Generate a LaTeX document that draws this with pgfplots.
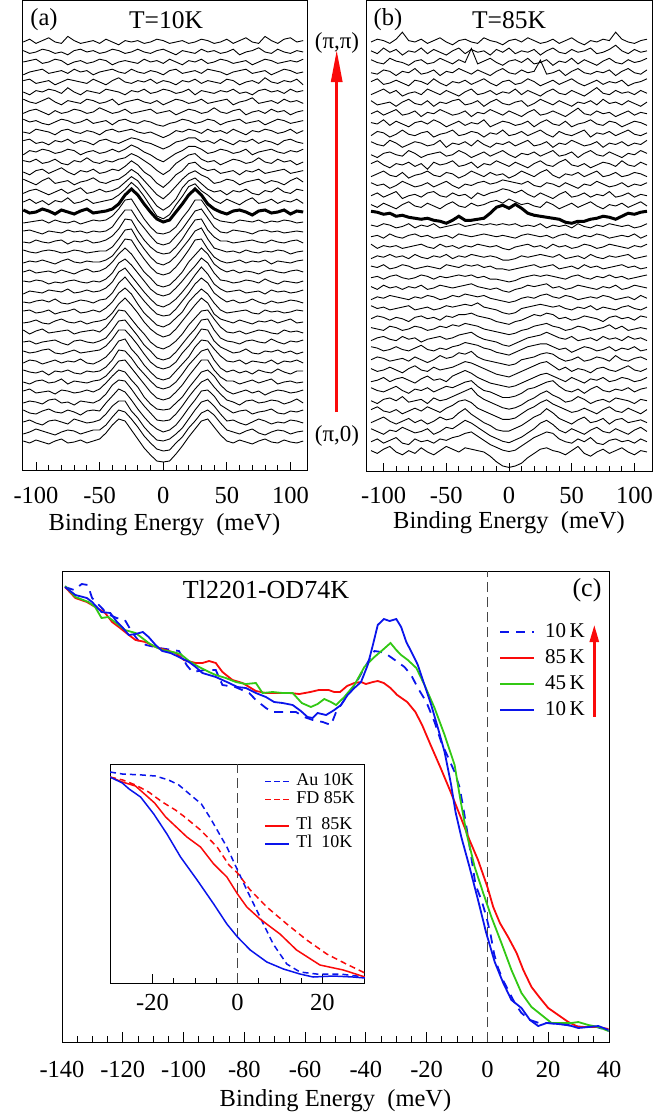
\documentclass[border=0pt]{standalone}
\usepackage{fontspec}
\setmainfont{Liberation Serif}
\usepackage{pgfplots}
\usepackage{pgfplotstable}
\pgfplotsset{compat=1.18}
\usetikzlibrary{arrows.meta}
\definecolor{cblue}{RGB}{10,20,235}
\definecolor{cred}{RGB}{250,10,10}
\definecolor{cgreen}{RGB}{50,200,20}
\definecolor{cgray}{RGB}{70,70,70}

% Panel (a): one row per spectrum (deviation in px), columns = binding energy (meV)
\pgfplotstableread{
name -110 -105 -100 -95 -90 -85 -80 -75 -70 -65 -60 -55 -50 -45 -40 -35 -30 -25 -20 -15 -10 -5 0 5 10 15 20 25 30 35 40 45 50 55 60 65 70 75 80 85 90 95 100 105 110
c0  1 -1 2 0 -2  1 3 -1 0 2  -1 1 3 9 17  23 21 12 3 -6  -13 -19 -20 -19 -12  -4 5 13 21 23  15 7 1 -1 2  0 -2 1 3 0  -1 2 0 -1 1
c1  -2 0 3 1 -1  -3 0 2 1 -2  0 2 2 7 15  22 20 13 5 -4  -11 -17 -19 -18 -11  -5 4 11 19 22  17 9 2 0 -2  1 3 -1 -3 0  2 1 -2 0 1
c2  0 2 -1 -3 1  2 0 -2 3 1  -1 0 2 8 16  21 21 11 4 -5  -12 -18 -19 -17 -12  -6 3 12 20 22  16 8 1 2 -1  -3 0 3 1 -2  0 -1 2 1 -1
c3  2 -1 -2 1 3  0 -1 2 0 -3  1 2 1 9 16  23 20 12 3 -5  -12 -17 -20 -18 -13  -5 4 12 21 22  16 7 3 -1 1  2 -2 0 1 3  -1 -2 1 0 2
c4  -1 1 0 -2 2  3 -1 0 -3 1  0 -1 2 8 17  22 21 13 4 -4  -11 -18 -19 -18 -12  -4 5 13 20 23  15 8 2 0 -3  1 2 -1 0 2  1 -2 0 3 -1
c5  1 3 -1 0 1  -2 2 1 -1 0  2 0 3 9 16  22 20 12 5 -5  -12 -17 -18 -17 -11  -5 4 12 20 22  16 7 1 -2 0  2 -1 1 -3 0  2 1 -1 0 2
c6  0 -2 1 2 -1  0 3 -2 1 0  -1 1 2 6 13  21 22 14 6 -2  -10 -16 -18 -16 -10  -3 6 14 22 22  12 5 1 1 -2  0 2 -1 1 3  -2 0 1 -1 0
c7  2 0 -1 1 -3  1 0 2 -1 -2  1 0 1 5 12  22 21 14 5 -2  -9 -15 -17 -15 -10  -2 7 14 21 23  12 4 0 2 -1  1 -2 2 0 -1  3 0 -2 1 1
c8  -1 2 1 -2 0  2 -1 1 0 3  -1 -2 1 5 12  21 23 13 6 -3  -10 -16 -18 -16 -9  -2 5 15 22 21  13 6 1 0 2  -2 1 0 -1 2  -2 1 0 2 -1
c9  1 -1 0 2 3  -1 -2 0 2 -1  0 1 2 6 13  22 22 15 7 -2  -10 -15 -17 -15 -10  -1 6 14 23 22  11 5 2 -1 0  3 -1 -2 1 0  2 -1 1 -2 0
c10 0 1 -2 0 1  2 -1 -3 1 2  0 -1 1 4 12  21 22 14 6 -3  -9 -16 -18 -16 -10  -2 6 13 22 23  12 4 1 0 -2  1 2 0 -1 3  0 -2 1 0 2
c11 2 -2 1 3 -1  0 1 2 -2 0  1 2 0 5 13  22 21 13 5 -2  -10 -15 -17 -14 -9  -2 7 14 21 22  13 5 0 -1 1  -2 0 2 1 -1  -2 2 0 1 -1
c12 -1 0 2 -1 -2  1 3 0 -1 1  -2 0 1 3 9  18 24 17 9 0  -7 -12 -15 -13 -7  1 9 17 24 19  8 3 1 -1 2  0 -2 1 0 2  -1 1 3 -1 0
c13 1 2 -1 0 2  -2 0 1 3 -1  0 2 0 4 10  19 24 18 8 -1  -7 -13 -15 -12 -6  0 10 17 23 18  9 2 -1 0 1  2 -1 -2 2 0  1 -1 0 2 1
c14 0 -1 1 2 0  3 -1 -2 0 2  1 -1 2 3 9  19 25 17 9 1  -6 -12 -14 -13 -7  1 9 18 24 19  9 4 0 2 -1  0 3 0 -2 1  -1 0 2 1 -1
c15 -2 1 0 -1 2  1 0 3 -1 0  2 0 1 4 10  20 24 16 8 0  -7 -13 -15 -12 -7  0 8 17 25 18  8 3 0 1 2  -1 0 1 -2 2  0 1 -1 0 2
c16 1 0 2 1 -2  0 -1 1 2 0  -1 1 0 3 9  19 23 17 9 1  -7 -12 -14 -12 -6  1 9 16 24 19  9 2 1 -1 0  2 1 -1 3 0  -2 1 0 -1 1
c17 0 2 -1 0 1  -1 2 0 -2 1  3 0 1 4 10  18 24 18 9 0  -6 -13 -15 -13 -7  0 10 17 24 18  8 3 0 2 -1  1 0 -2 1 2  0 -1 1 2 0
c18 -1 1 0 2 0  -2 1 3 0 -1  1 0 0 2 6  14 23 22 12 3  -5 -11 -13 -11 -5  3 12 22 23 13  5 1 -1 0 2  -1 1 0 2 -2  1 0 -1 1 2
c19 2 0 -1 1 2  1 -1 0 2 1  -1 0 1 1 5  13 22 23 12 3  -5 -11 -13 -10 -4  4 12 21 24 13  4 2 0 1 -1  2 0 -1 1 0  2 1 -2 0 1
c20 0 -1 2 0 -1  1 2 -2 1 0  2 -1 0 2 6  13 23 22 11 2  -5 -10 -12 -11 -5  3 13 22 23 12  5 1 1 -1 0  1 2 0 -1 2  0 -1 1 2 -1
c21 1 2 0 -2 1  0 -1 2 0 1  -1 1 0 1 5  14 22 22 12 4  -4 -11 -13 -11 -4  3 12 21 23 14  5 0 -1 2 1  0 -2 1 2 0  1 -1 0 1 0
c22 -1 0 1 2 -1  2 0 -1 1 -2  0 2 1 2 6  13 22 23 13 3  -5 -11 -12 -10 -5  4 12 22 22 13  4 1 0 -1 2  1 0 2 -1 1  0 2 1 -1 0
c23 2 -1 0 3 1  -2 2 0 -2 1  3 -1 0 1 3  8 17 23 17 8  0 -7 -10 -8 0  8 17 23 17 8  3 0 -2 1 2  0 -3 1 2 -1  0 2 -2 1 0
c24 0 2 -1 1 -2  1 0 3 -1 0  2 -1 0 1 2  5 9 14 10 4  -3 -10 -12 -9 -2  4 11 13 8 5  1 -1 2 0 -2  1 3 -1 0 2  -1 1 0 2 -1
c25 -1 1 2 0 -2  0 2 -1 1 3  -1 0 2 0 1  3 7 11 8 2  -4 -10 -13 -10 -5  3 8 10 6 2  0 1 -2 1 0  2 -1 -2 1 0  3 0 -1 2 1
c26 2 0 -2 1 3  -1 0 1 -2 0  1 3 0 -1 1  2 5 9 6 1  -4 -9 -12 -8 -3  2 6 8 5 3  -1 0 2 1 -2  0 1 2 -1 1  0 -2 1 3 0
c27 0 -2 1 2 -1  1 3 0 -2 1  0 2 -1 0 2  1 4 8 5 0  -3 -8 -11 -7 -2  1 6 7 3 1  2 -1 0 1 -2  1 0 2 -1 0  1 2 -1 0 1
c28 1 0 2 -1 0  2 -1 -2 1 0  3 0 -1 1 0  2 3 6 4 1  -2 -6 -9 -6 -1  2 5 6 2 0  1 -2 0 2 1  -1 0 3 0 -1  2 0 1 -2 0
c29 -2 1 0 2 1  -1 0 2 1 -2  0 1 -1 0 2  0 2 5 3 0  -2 -5 -7 -4 -1  1 4 4 2 -1  0 2 1 -1 0  2 -2 0 1 2  0 -1 1 0 2
c30 1 2 -1 0 -2  1 0 2 -1 1  0 -2 1 2 0  -1 1 3 2 0  -1 -3 -5 -3 0  1 3 3 0 1  -1 2 0 -2 1  0 2 -1 1 0  -2 1 2 0 -1
c31 0 -1 2 1 0  -2 1 2 0 -1  1 0 -2 1 2  0 1 2 0 -1  0 -2 -4 -2 1  0 2 1 -1 2  0 1 -1 2 0  -2 1 0 2 1  -1 0 2 -1 1
c32 2 0 1 -1 -2  0 2 1 -1 0  2 -1 0 1 -2  1 2 0 -1 1  0 -2 -3 -1 0  2 1 -1 0 2  1 -2 0 1 2  -1 0 1 -2 0  2 1 -1 0 1
c33 -1 1 2 0 -2  1 -1 0 2 1  -1 0 3 1 -1  0 2 -1 0 1  2 -1 0 1 -2  0 2 1 -1 0  3 0 -1 1 2  -2 0 1 -1 2  0 1 -2 0 1
c34 2 0 -1 1 3  0 -2 1 0 -1  2 1 -1 0 2  -2 0 1 2 0  -1 1 -2 0 2  1 -1 0 2 -1  0 1 2 -2 0  1 3 -1 0 1  -1 2 0 1 -1
c35 0 -2 1 0 2  1 -1 3 0 -2  1 0 -1 2 1  0 -2 1 0 2  -1 0 2 1 -1  0 2 -2 1 0  -1 1 0 2 -1  0 -2 1 2 0  1 -1 2 0 1
c36 1 2 -1 0 1  -2 0 2 1 0  -1 2 0 -2 1  3 0 -1 1 0  2 -1 1 0 -2  1 0 2 -1 1  0 -1 2 1 -2  0 1 -1 3 0  -1 1 0 2 -2
c37 -2 0 1 2 -1  0 1 -1 2 0  1 -2 0 1 2  0 -1 2 0 -1  1 0 -2 1 2  -1 0 1 -1 2  1 0 -2 0 1  2 -1 0 1 -2  0 2 1 -1 0
c38 0 1 2 -1 0  2 1 -2 0 1  -1 0 2 1 -2  0 1 0 -1 2  0 1 -1 2 0  -2 1 0 2 -1  0 2 1 -1 0  1 -2 0 2 1  -1 0 1 0 2
c39 1 -1 0 2 1  -1 0 -2 1 2  0 1 -1 0 2  1 -1 0 2 0  -1 1 2 0 -2  1 0 -1 2 0  1 -1 0 2 -2  0 1 3 0 -1  2 0 -1 1 0
c40 0 2 -1 1 3  0 -1 4 1 -1  0 1 -1 2 0  -2 1 0 1 -1  0 2 1 -1 0  1 -1 0 2 1  -1 0 2 -1 1  3 0 -1 4 1  -1 2 3 0 1
}\rawA
\pgfplotstabletranspose[colnames from=name]{\tabA}{\rawA}

% Panel (b)
\pgfplotstableread{
name -110 -105 -100 -95 -90 -85 -80 -75 -70 -65 -60 -55 -50 -45 -40 -35 -30 -25 -20 -15 -10 -5 0 5 10 15 20 25 30 35 40 45 50 55 60 65 70 75 80 85 90 95 100 105 110
c0  1 -1 2 4 0  -2 1 -1 3 0  -2 1 4 2 0  3 2 1 0 -3  -7 -10 -11 -10 -8  -4 -1 2 3 1  0 -2 1 4 -1  -3 0 2 -1 1  3 0 -2 1 0
c1  0 2 -1 1 3  -1 -2 2 0 1  -1 2 1 3 4  6 7 4 1 -2  -4 -6 -7 -6 -3  0 3 5 7 6  2 0 -1 2 0  3 -1 -2 1 2  0 1 -1 2 0
c2  2 0 -2 1 0  3 1 -1 0 2  -2 0 3 2 5  8 6 3 0 -3  -5 -7 -8 -6 -4  -1 2 6 8 5  1 -1 2 0 -2  1 3 0 -1 2  0 -2 1 3 0
c3  -1 1 3 0 -2  0 2 -1 1 -2  0 3 1 2 6  9 5 2 -1 -3  -6 -7 -7 -5 -3  0 3 5 9 6  2 0 -2 1 3  -1 0 2 -2 1  2 -1 0 1 -1
c4  1 3 0 -1 1  -2 0 2 0 3  1 -1 2 4 7  8 6 2 0 -2  -4 -6 -6 -5 -2  1 3 6 8 5  3 1 -1 0 2  0 -2 1 3 0  -1 2 0 -2 1
c5  0 -2 1 2 0  3 -1 0 1 -2  2 0 1 3 5  7 9 4 1 -1  -3 -5 -6 -5 -3  0 2 5 7 4  2 -1 0 3 1  -2 0 1 -1 2  1 0 -2 1 0
c6  2 0 -1 1 3  0 -2 1 0 2  -1 1 3 2 4  6 7 3 0 -1  -3 -5 -5 -4 -2  1 2 4 6 7  3 0 -1 1 -2  1 3 0 -1 1  0 2 -1 1 2
c7  -1 0 2 -1 1  2 0 -2 1 3  0 1 -1 3 5  7 5 2 0 -2  -3 -4 -5 -4 -2  0 2 4 5 3  1 -1 2 0 -2  1 0 2 -1 0  2 1 -1 0 2
c8  1 -1 0 2 0  -2 1 3 0 -1  2 0 1 2 4  6 5 3 1 -1  -3 -4 -5 -3 -1  1 3 5 6 3  0 2 -1 1 0  -2 1 2 0 -1  1 3 0 -1 1
c9  0 2 1 -1 0  1 -1 2 0 -2  0 3 1 2 5  4 6 2 0 -1  -2 -3 -4 -3 0  1 2 4 5 4  1 -1 0 2 -1  0 2 1 -1 3  0 -1 1 2 0
c10 2 1 -1 0 2  0 -1 1 3 0  -1 1 0 2 3  5 4 3 1 0  -2 -3 -4 -2 0  2 3 4 4 2  0 1 -2 0 2  1 -1 0 2 -1  1 0 2 -1 0
c11 -1 1 2 0 -1  2 0 1 -2 0  1 2 0 1 3  4 5 2 0 -1  -2 -4 -5 -3 -1  1 2 3 5 3  1 0 2 -1 0  1 -1 2 0 1  -1 2 0 1 -1
c12 1 0 -1 2 1  -1 0 2 1 -1  0 2 1 3 2  4 3 2 0 -1  -2 -3 -4 -3 -1  0 2 3 4 2  1 -1 0 2 1  -1 0 1 3 0  2 -1 0 1 0
c13 0 2 1 -1 1  0 -2 1 2 0  1 -1 2 1 3  3 4 2 1 0  -2 -3 -4 -2 -1  1 3 2 4 3  0 1 -1 0 2  1 0 -2 1 2  0 1 -1 2 1
c14 2 0 1 -1 0  1 2 -1 0 1  -1 0 2 1 2  3 2 4 1 0  -1 -3 -4 -3 0  1 2 3 2 1  2 0 -1 1 0  2 -1 1 0 -1  1 2 0 -1 1
c15 -1 1 0 2 1  0 -1 1 0 2  1 -1 0 2 1  3 2 1 2 0  -1 -2 -3 -2 0  1 0 2 3 1  0 2 1 -1 0  1 0 2 1 -1  0 1 -1 2 0
c16 1 -1 2 0 1  -1 1 0 2 -1  0 2 1 0 1  2 3 1 0 -1  0 -2 -3 -1 0  2 1 2 3 0  1 -1 0 2 1  0 -1 1 0 2  -1 0 2 1 0
c17 0 1 -1 1 2  0 -1 0 2 1  -1 1 0 1 2  1 2 0 1 -1  -1 -2 -3 -2 0  1 2 1 2 1  0 -1 1 2 0  -1 1 0 2 0  1 -1 0 1 2
c18 1 0 2 -1 0  2 1 -1 0 1  0 -1 2 1 0  2 1 2 0 1  -1 -1 -2 -1 0  1 2 0 1 2  -1 0 1 -1 2  0 1 -1 0 1  2 0 1 -1 0
c19 -1 1 0 2 0  1 -1 2 0 -1  1 0 2 -1 1  0 2 1 0 1  0 -2 -2 -1 1  0 1 2 1 0  2 -1 0 1 -1  2 0 -1 1 0  1 2 -1 0 1
c20 2 -1 1 0 1  -1 0 1 2 0  -1 2 0 1 -1  1 0 2 1 0  1 -1 -2 0 1  2 0 1 -1 2  0 1 -1 0 2  1 -1 0 2 1  0 -1 1 0 2
c21 0 1 -1 2 0  -1 1 2 0 1  -1 0 1 -1 2  1 0 1 2 1  0 1 0 -1 1  2 1 0 1 -1  1 2 0 -1 1  0 2 1 -1 0  1 0 2 -1 1
c22 1 0 2 1 -1  0 2 -1 1 0  2 -1 0 1 2  0 1 2 1 2  1 2 1 2 0  1 0 2 -1 1  0 1 -1 2 0  -1 1 0 2 1  0 1 -1 0 2
c23 5 4 2 3 0  1 -1 -2 -3 -2  -4 -5 -7 -4 0  -4 -4 -3 -2 3  9 11 8 12 8  3 1 0 -1 -2  -3 -6 -7 -5 -5  -3 -2 0 -1 -3  0 3 2 4 5
c24 1 -1 2 0 -2  1 3 0 -1 2  0 -2 1 3 0  -1 2 0 1 3  4 2 5 3 1  2 0 -1 3 1  -2 0 2 -1 1  3 0 -2 1 0  2 -1 1 3 0
c25 0 2 -1 1 3  -2 0 1 -1 2  3 0 -1 2 0  1 -2 2 0 2  3 5 4 2 4  1 -1 2 0 -2  1 3 -1 0 2  -1 1 0 3 -1  0 2 -1 1 0
c26 2 0 1 -2 0  3 1 -1 0 2  -1 1 3 0 -2  1 0 2 3 1  2 4 3 2 1  3 0 -1 2 1  -1 2 0 -2 1  0 3 1 -1 0  2 -1 1 0 2
c27 -1 1 3 0 -1  2 -2 0 1 3  0 -1 2 1 -2  0 3 1 -1 2  0 1 -2 0 3  1 -1 2 4 0  -2 1 0 2 -1  1 3 -1 0 2  -1 0 2 1 -1
c28 1 3 0 -2 1  0 2 -1 1 -3  2 0 1 3 -1  0 2 -2 1 0  3 1 -1 2 0  -2 1 3 0 -1  2 4 0 -1 1  -2 0 2 1 -1  3 0 -1 2 0
c29 0 -2 1 2 0  -1 3 1 -2 0  1 2 -1 0 3  1 -2 0 2 -1  1 3 0 -2 1  0 2 -1 1 3  -1 0 2 -2 1  3 0 -1 2 0  -2 1 0 3 1
c30 2 0 -1 3 1  -2 0 2 1 -1  0 3 -2 1 0  2 -1 3 0 -2  1 0 2 -1 1  3 -1 0 2 -2  1 0 3 1 -1  0 2 -2 1 0  2 -1 1 0 3
c31 -1 2 1 -2 0  3 0 -1 1 2  -2 0 1 3 -1  0 2 1 -2 1  0 3 -1 0 2  -1 1 3 0 -2  2 0 -1 1 3  -2 1 0 2 -1  1 3 0 -1 1
c32 1 0 3 -1 2  0 -2 1 2 0  3 1 -2 0 2  -1 1 0 3 -2  0 2 1 -1 0  2 -2 1 3 0  -1 2 -2 0 1  3 0 -1 2 1  -2 0 2 1 -1
c33 0 2 -1 1 3  -1 0 2 -2 1  0 3 1 -1 0  2 -2 1 0 3  1 -1 2 0 -2  1 3 -1 0 2  0 -2 1 4 0  -1 2 0 1 -2  0 2 -1 1 0
c34 2 -1 0 1 -2  1 3 0 -1 2  -2 1 0 2 3  -1 0 2 -2 1  3 0 -1 1 2  -2 0 3 1 -1  2 0 -2 1 0  2 -1 3 0 1  -1 2 0 -2 1
c35 -1 1 3 0 2  -2 0 1 -1 3  1 -1 2 0 -2  1 3 -1 0 2  -1 1 0 3 -1  2 0 -2 1 3  0 -1 2 0 -2  1 4 0 -1 2  0 1 -1 2 0
c36 1 3 -1 0 2  0 -2 2 1 -1  3 0 -2 1 0  2 -1 1 3 0  -2 1 2 -1 0  3 1 -2 0 2  -1 1 3 0 -2  0 2 -1 1 0  2 -2 0 1 3
c37 0 -1 2 1 -2  1 0 3 -1 0  2 -2 1 0 3  1 -1 2 0 -2  1 3 0 -1 2  0 1 9 -1 0  2 -2 1 3 0  -1 1 0 2 -2  1 3 0 -1 2
c38 2 0 -1 3 1  0 -2 1 2 -1  0 3 1 -1 2  0 10 -1 1 3  0 -2 1 2 0  3 -1 0 2 -2  1 0 3 -1 2  0 -2 1 3 0  -1 2 0 1 3
c39 1 -1 3 0 2  -2 1 0 3 -1  2 0 -2 1 3  -1 2 0 1 -2  2 0 3 -1 1  0 2 -2 1 3  0 -1 2 0 1  3 -1 0 2 5  1 -1 2 0 1
c40 0 2 1 -1 2  7 1 0 2 -1  1 3 0 -2 1  2 0 -1 3 1  0 -2 1 2 0  3 1 -1 0 2  -1 1 3 0 -2  1 0 2 1 7  2 0 -1 1 2
}\rawB
\pgfplotstabletranspose[colnames from=name]{\tabB}{\rawB}

\pgfplotsset{
  panel/.style={
    scale only axis, anchor=south west, ytick=\empty,
    xtick pos=left, tick align=inside,
    axis line style={line width=1pt}, tick style={black, line width=0.9pt},
    /pgf/number format/assume math mode=true,
    tick label style={font=\fontsize{24.5}{24.5}\selectfont},
    xlabel style={font=\fontsize{24.5}{24.5}\selectfont, at={(axis description cs:0.5,0)}, anchor=center},
  },
  insetlegend/.style={
    scale only axis, anchor=south west, at={(110pt,-983pt)}, width=255pt, height=219pt,
    hide axis, xmin=-30, xmax=30, ymin=0, ymax=219,
    legend style={anchor=north west, draw=none, fill=none,
      inner sep=0pt, font=\fontsize{18}{18}\selectfont,
      nodes={inner sep=1pt, text height=12pt, text depth=4pt}, row sep=0pt,
      /tikz/every odd column/.append style={column sep=5pt}},
    legend cell align=left,
    legend image code/.code={\draw[##1] (0pt,0pt) -- (24pt,0pt);},
  },
}

\begin{document}
\begin{tikzpicture}
\useasboundingbox (0pt,0pt) rectangle (655pt,-1116pt);

% ---------------- panel (a)
\begin{axis}[panel, at={(22pt,-470pt)}, width=285pt, height=469pt,
  xmin=-111, xmax=113, ymin=0, ymax=469,
  xtick={-100,-50,0,50,100}, minor x tick num=4,
  major tick length=8pt, minor tick length=5pt,
  xticklabel style={anchor=center, yshift=-25pt},
  xlabel={Binding Energy\ \ (meV)}, xlabel style={yshift=-55pt}]
\pgfplotsinvokeforeach{0,...,22}{
  \addplot[black, line width=0.9pt] table[x=colnames, y expr=\thisrow{c#1}+28+10*#1] {\tabA};
}
\pgfplotsinvokeforeach{24,...,40}{
  \addplot[black, line width=0.9pt] table[x=colnames, y expr=1.4*\thisrow{c#1}+28+10*#1] {\tabA};
}
\addplot[black, line width=3pt] table[x=colnames, y expr=\thisrow{c23}+258] {\tabA};
\end{axis}
\node[font=\fontsize{24.5}{24.5}\selectfont] at (44pt,-20pt) {(a)};
\node[font=\fontsize{25.5}{25.5}\selectfont] at (166pt,-20pt) {T=10K};

% ---------------- panel (b)
\begin{axis}[panel, at={(366pt,-471pt)}, width=286pt, height=470pt,
  xmin=-114, xmax=114, ymin=0, ymax=470,
  xtick={-100,-50,0,50,100}, minor x tick num=4,
  major tick length=8pt, minor tick length=5pt,
  xticklabel style={anchor=center, yshift=-24pt},
  xlabel={Binding Energy\ \ (meV)}, xlabel style={yshift=-52pt}]
\pgfplotsinvokeforeach{0,...,22}{
  \addplot[black, line width=0.9pt] table[x=colnames, y expr=1.4*\thisrow{c#1}+19+10.25*#1] {\tabB};
}
\pgfplotsinvokeforeach{24,...,40}{
  \addplot[black, line width=0.9pt] table[x=colnames, y expr=1.4*\thisrow{c#1}+19+10.25*#1] {\tabB};
}
\addplot[black, line width=3pt] table[x=colnames, y expr=\thisrow{c23}+254.75] {\tabB};
\end{axis}
\node[font=\fontsize{24.5}{24.5}\selectfont] at (388pt,-20pt) {(b)};
\node[font=\fontsize{25.5}{25.5}\selectfont] at (509pt,-20pt) {T=85K};

% arrow between panels
\draw[cred, line width=3pt, -{Triangle[length=32pt,width=11pt]}] (336.7pt,-412pt) -- (336.7pt,-50pt);
\node[font=\fontsize{23}{23}\selectfont] at (337pt,-43pt) {(π,π)};
\node[font=\fontsize{23}{23}\selectfont] at (337pt,-436pt) {(π,0)};

% ---------------- panel (c)
\begin{axis}[panel, at={(62pt,-1042pt)}, width=547pt, height=471pt,
  xmin=-140, xmax=40, ymin=0, ymax=471,
  xtick={-140,-120,...,40}, minor x tick num=3,
  major tick length=10pt, minor tick length=6pt,
  xticklabel style={anchor=center, yshift=-27pt},
  xlabel={Binding Energy\ \ (meV)}, xlabel style={yshift=-59pt},
  legend style={at={(0.799,0.894)}, anchor=north west, draw=none, fill=none,
    inner sep=0pt, font=\fontsize{21}{21}\selectfont,
    nodes={inner sep=2pt, text height=14pt, text depth=4pt}, row sep=4pt,
    /tikz/every odd column/.append style={column sep=8pt}},
  legend cell align=left,
  legend image code/.code={\draw[#1] (0pt,0pt) -- (34pt,0pt);}]
\addplot[forget plot, cgray, line width=1.3pt, dash pattern=on 10pt off 5pt] coordinates {(0,0) (0,471)};
\addplot[cblue, line width=1.8pt, dash pattern=on 9pt off 7pt] coordinates {
(-139,455) (-136,452) (-133.5,458) (-131.5,457) (-130.1,444) (-128.5,439) (-125,428) (-122,424) (-119.3,422) (-117,410)
(-114.5,400) (-112.3,397) (-108,394) (-103.7,392) (-101.5,391) (-99,377) (-97.1,370) (-93,372) (-89.4,372) (-87.2,357)
(-83,355) (-78.4,349) (-76.2,342) (-72.9,334) (-70.7,330) (-65.2,330) (-63,330) (-60.3,325) (-57.5,322) (-54.2,320)
(-51.5,317) (-49.8,330) (-48.2,337) (-44.9,352) (-42.7,362) (-40.5,374) (-37.2,391) (-35,390) (-32.8,387) (-30,381)
(-27.3,375) (-25.1,367) (-22.9,354) (-20.1,340) (-17.4,320) (-15.2,300) (-13,285) (-10.8,270) (-9.2,255) (-8.1,237)
(-6,198) (-3.9,157) (-2,142) (-0.5,127) (1,108) (2.2,88) (3.5,74) (5.1,62) (7.3,49) (9,39) (11.2,29) (14,22) (17,19)
(20,19) (24,18) (28,16) (32,15) (36,15) (40,11)};
\addlegendentry{10\,K}
\addplot[cred, line width=1.8pt] coordinates {
(-139,455) (-135.6,444) (-131.8,440) (-128.5,434) (-125.8,429) (-123.5,420) (-121.3,415) (-118,407) (-115.8,402) (-112.5,400)
(-109.2,395) (-105.9,392) (-102.6,389) (-99.9,382) (-96,379) (-93.8,379) (-91.6,381) (-89.4,379) (-87.2,370) (-83.9,362)
(-80.6,359) (-76.2,351) (-72.9,349) (-69.6,349) (-65.2,349) (-61.9,348) (-58.3,350) (-55.5,352) (-52.3,352) (-50.4,350)
(-48.5,350) (-46.2,356) (-43.8,359) (-41.6,360) (-40,358) (-37.7,360) (-36.1,361) (-34.1,359) (-31.9,354) (-29.7,347)
(-26.4,340) (-23.7,330) (-21.5,317) (-18.7,297) (-15.4,274) (-12.1,250) (-8.7,224) (-5.9,202) (-3.1,182) (0,155)
(1.9,135) (4.1,119) (6.8,105) (9.6,89) (11.8,72) (14.5,55) (17.3,44) (20,34) (23.3,27) (26.6,20) (29.9,15) (33.2,15)
(36.5,15) (39.8,13)};
\addlegendentry{85\,K}
\addplot[cgreen, line width=1.8pt] coordinates {
(-139,456) (-135.6,445) (-131.3,440) (-129.1,435) (-127,424) (-124.8,425) (-122.6,420) (-119.3,412) (-115.8,409) (-113.6,404)
(-111.5,399) (-109.2,395) (-107,392) (-103.7,390) (-101,388) (-98.2,381) (-94.9,375) (-91.6,370) (-89.4,367) (-86.1,364)
(-82.8,360) (-79.5,358) (-76.2,359) (-74,349) (-70.7,350) (-67.4,349) (-64.1,349) (-61.1,339) (-58.1,335) (-55.9,338)
(-53.7,343) (-51.5,340) (-49.8,337) (-47.1,345) (-43.8,357) (-40.5,375) (-37.2,385) (-34.5,392) (-31.9,399) (-30,392)
(-28.4,387) (-26.2,382) (-23.4,374) (-20.7,357) (-17.4,334) (-14.1,307) (-10.8,277) (-9,244) (-6.9,209) (-4.2,175)
(-1.4,149) (1.3,125) (4.6,99) (7.9,72) (11.2,49) (14.5,35) (17.8,27) (21.1,19) (24.4,19) (27.7,19) (29.9,20) (33.2,17)
(36.5,15) (39.8,11)};
\addlegendentry{45\,K}
\addplot[cblue, line width=1.8pt] coordinates {
(-139,455) (-135.6,447) (-131.8,444) (-130.1,440) (-127,430) (-124.1,429) (-121.9,420) (-120.2,415) (-118,407) (-115.8,408)
(-113.4,410) (-111.5,405) (-109.2,397) (-107,391) (-104.3,389) (-101.5,385) (-98.2,380) (-96,375) (-93.8,369) (-91.6,367)
(-89.4,365) (-87.2,362) (-85,359) (-82.3,355) (-79.5,354) (-76.2,349) (-72.9,345) (-70.2,340) (-67.4,339) (-64.1,337)
(-61.4,331) (-59.2,325) (-57.5,324) (-55.9,329) (-53.1,327) (-50.4,332) (-48.2,337) (-46,347) (-43.8,354) (-41.6,360)
(-39.4,377) (-37.7,397) (-36.1,417) (-34.1,423) (-32.2,421) (-30,423) (-28.4,415) (-26.7,400) (-24.5,387) (-22.9,377)
(-20.7,357) (-18.5,337) (-16.3,314) (-14.1,290) (-12,258) (-10.5,230) (-8.6,205) (-5.9,175) (-3.1,142) (-0.4,109)
(2.4,80) (5.2,59) (7.9,42) (11.2,34) (14,22) (16.7,16) (19.5,19) (23.3,18) (26.6,17) (29.9,14) (33.2,15) (36.5,16) (39.8,12)};
\addlegendentry{10\,K}
\end{axis}
\node[font=\fontsize{26}{26}\selectfont] at (266pt,-590pt) {Tl2201-OD74K};
\node[font=\fontsize{26}{26}\selectfont] at (587pt,-590pt) {(c)};
\draw[cred, line width=2.5pt, -{Triangle[length=17pt,width=9pt]}] (594.3pt,-716.7pt) -- (594.3pt,-625pt);

% ---------------- inset
\begin{axis}[panel, at={(110pt,-983pt)}, width=255pt, height=219pt,
  axis background/.style={fill=white},
  xmin=-30, xmax=30, ymin=0, ymax=219,
  xtick={-20,0,20}, minor x tick num=3,
  major tick length=9pt, minor tick length=5pt,
  xticklabel style={anchor=center, yshift=-19pt}]
\addplot[cgray, line width=1.3pt, dash pattern=on 10pt off 5pt] coordinates {(0,0) (0,219)};
\addplot[cblue, line width=1.5pt, dash pattern=on 6pt off 4pt] coordinates {
(-30,211) (-27.1,209) (-22.4,208) (-19.3,207) (-16.2,203) (-13.8,198) (-11.3,189) (-8.5,179) (-6.4,165) (-5.6,159)
(-2.5,136) (0,113) (2.2,93) (5.3,66) (8.4,39) (11.6,19) (14.7,11) (18.6,9) (24.1,9) (30,6)};
\addplot[cred, line width=1.5pt, dash pattern=on 6pt off 4pt] coordinates {
(-30,206) (-27,203) (-24,198) (-20.9,191) (-17.7,181) (-14.6,173) (-12.7,167) (-8.7,153) (-4.8,136) (-2,118)
(0,110) (3,93) (6.9,76) (11.6,59) (16.3,43) (21,29) (25.6,19) (30,10)};
\addplot[cred, line width=1.5pt] coordinates {
(-30,206) (-27.1,201) (-24,197) (-21.6,188) (-19.5,180) (-16.9,166) (-11.9,146) (-8.7,136) (-5.6,119) (-2.5,106)
(0,89) (2.2,76) (5.3,64) (10,49) (13.9,33) (19.4,18) (24.9,13) (30,6)};
\addplot[cblue, line width=1.5pt] coordinates {
(-30,206) (-27.1,200) (-25.5,194) (-22.8,186) (-19.7,169) (-16.6,149) (-13.4,126) (-9.5,103) (-5.6,79) (-2.5,59)
(0,46) (3,33) (6.9,21) (10.8,14) (14.7,9) (17.8,6) (22.5,7) (27.2,6) (30,5)};
\end{axis}
% inset legends (same frame, hidden axes)
\begin{axis}[insetlegend, legend style={at={(0.605,0.962)}}]
\addlegendimage{cblue, line width=1.8pt, dash pattern=on 6pt off 3pt}
\addlegendentry{Au 10K}
\addlegendimage{cred, line width=1.8pt, dash pattern=on 6pt off 3pt}
\addlegendentry{FD 85K}
\end{axis}
\begin{axis}[insetlegend, legend style={at={(0.605,0.760)}}]
\addlegendimage{cred, line width=1.8pt}
\addlegendentry{Tl\enspace 85K}
\addlegendimage{cblue, line width=1.8pt}
\addlegendentry{Tl\enspace 10K}
\end{axis}
\end{tikzpicture}
\end{document}
